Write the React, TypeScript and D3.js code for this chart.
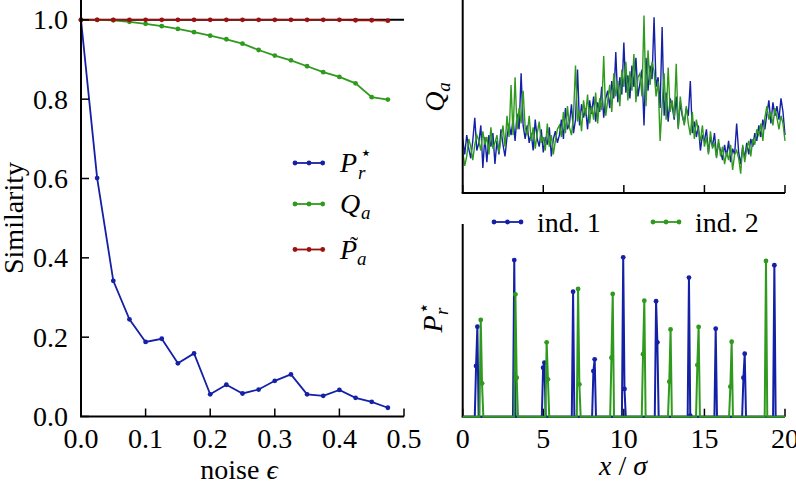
import React from "react";
import * as d3 from "d3";

// ---------- Left panel: similarity vs noise ----------
const noiseEps = [0, 0.025, 0.05, 0.075, 0.1, 0.125, 0.15, 0.175, 0.2, 0.225, 0.25, 0.275, 0.3, 0.325, 0.35, 0.375, 0.4, 0.425, 0.45, 0.475];
const simPr = [1.0, 0.601, 0.342, 0.245, 0.188, 0.196, 0.134, 0.159, 0.056, 0.08, 0.058, 0.068, 0.09, 0.106, 0.056, 0.052, 0.067, 0.047, 0.037, 0.022];
const simQa = [1.0, 1.0, 0.999, 0.995, 0.99, 0.984, 0.977, 0.969, 0.96, 0.951, 0.94, 0.924, 0.91, 0.898, 0.883, 0.868, 0.856, 0.84, 0.805, 0.799];
const simPa = [1, 1, 1, 1, 1, 1, 1, 1, 1, 1, 1, 1, 1, 1, 1, 1, 1, 0.999, 0.999, 0.998];
const leftXTicks = [0, 0.1, 0.2, 0.3, 0.4, 0.5];
const leftYTicks = [0, 0.2, 0.4, 0.6, 0.8, 1.0];

// ---------- Top right: Q_a profiles (arbitrary units) ----------
const qaX = d3.range(161).map((i) => i * 0.125);
const qaInd1 = [
  28, 20, 30, 23, 18, 27, 39, 22,
  26, 35, 13, 29, 16, 30, 24, 31,
  15, 27, 20, 33, 25, 19, 29, 36,
  30, 38, 27, 41, 33, 62, 35, 28,
  35, 26, 31, 22, 38, 28, 24, 33,
  21, 29, 25, 34, 19, 28, 32, 26,
  30, 38, 28, 44, 33, 36, 46, 31,
  38, 64, 35, 46, 39, 44, 33, 48,
  41, 50, 37, 47, 42, 55, 39, 49,
  53, 44, 58, 49, 73, 47, 60, 51,
  78, 52, 61, 49, 66, 55, 70, 50,
  57, 64, 35, 70, 53, 66, 59, 91,
  55, 60, 44, 86, 40, 52, 37, 49,
  45, 38, 50, 34, 47, 40, 36, 44,
  40, 58, 31, 37, 29, 35, 22, 30,
  27, 33, 21, 29, 24, 31, 19, 26,
  22, 17, 25, 19, 27, 16, 23, 20,
  36, 21, 15, 24, 18, 26, 20, 28,
  24, 31, 27, 35, 29, 38, 33, 41,
  48, 36, 47, 40, 45, 38, 49, 42,
  30,
];
const qaInd2 = [
  22, 14, 19, 28, 24, 17, 25, 30,
  27, 22, 32, 25, 29, 20, 34, 23,
  26, 30, 21, 28, 35, 24, 40, 29,
  56, 30, 60, 33, 44, 36, 53, 34,
  30, 40, 27, 34, 23, 31, 37, 26,
  29, 22, 36, 24, 30, 20, 27, 33,
  35, 29, 42, 31, 45, 34, 30, 40,
  66, 37, 43, 32, 48, 40, 51, 36,
  45, 38, 52, 36, 49, 43, 71, 40,
  48, 56, 42, 62, 50, 58, 45, 64,
  55, 68, 48, 63, 53, 72, 47, 60,
  62, 50, 92, 45, 74, 56, 68, 63,
  50, 58, 27, 46, 62, 38, 65, 42,
  48, 39, 67, 33, 50, 41, 35, 45,
  36, 30, 42, 28, 38, 32, 27, 35,
  24, 29, 20, 32, 23, 26, 18, 28,
  19, 24, 15, 21, 17, 25, 12, 20,
  22, 18, 10, 25, 16, 23, 27, 19,
  28, 25, 33, 30, 36, 27, 39, 45,
  38, 42, 35, 44, 39, 33, 40, 36,
  27,
];

// ---------- Bottom right: P_r* peaks ----------
const ind1PeakX = [0.91, 3.2, 5.07, 6.85, 8.19, 9.96, 12.0, 14.04, 15.7, 17.5, 19.34];
const ind1PeakTop = [0.467, 0.813, 0.28, 0.649, 0.298, 0.827, 0.599, 0.722, 0.457, 0.327, 0.786];
const ind1PeakMid = [0.263, 0, 0.254, 0, 0.237, 0.144, 0.386, 0.005, 0, 0.202, 0];
const ind1PeakSide = [-1, 0, -1, 0, -1, 1, 1, 1, 0, -1, 0];
const ind2PeakX = [1.12, 3.27, 5.21, 7.16, 9.31, 11.27, 12.9, 14.64, 16.69, 18.82];
const ind2PeakTop = [0.502, 0.635, 0.386, 0.663, 0.637, 0.602, 0.453, 0.466, 0.389, 0.808];
const ind2PeakMid = [0.173, 0.202, 0.194, 0.168, 0.306, 0.324, 0.182, 0.268, 0.156, 0];
const ind2PeakSide = [1, 1, 1, 1, -1, -1, -1, -1, -1, 0];
const rightXTicks = [0, 5, 10, 15, 20];

const BLUE = "#1420a6";
const GREEN = "#2f9a1e";
const RED = "#9a1010";
const FONT = "'Liberation Serif', 'DejaVu Serif', serif";
const FS = 28;

function buildPeaks(px: number[], top: number[], mid: number[], side: number[]): [number, number][] {
  const dx = 0.08;
  const pts: [number, number][] = [[0, 0]];
  px.forEach((x, i) => {
    if (side[i] === 1) {
      pts.push([x - dx, 0], [x, top[i]], [x + dx, mid[i]], [x + 2 * dx, 0]);
    } else if (side[i] === -1) {
      pts.push([x - 2 * dx, 0], [x - dx, mid[i]], [x, top[i]], [x + dx, 0]);
    } else {
      pts.push([x - dx, 0], [x, top[i]], [x + dx, 0]);
    }
  });
  pts.push([20, 0]);
  return pts;
}

export default function App() {
  const xL = d3.scaleLinear().domain([0, 0.5]).range([81, 404]);
  const yL = d3.scaleLinear().domain([0, 1.05]).range([416.5, 0]);
  const xR = d3.scaleLinear().domain([0, 20]).range([462.7, 785]);
  const yQ = d3.scaleLinear().domain([0, 100]).range([193, 0]);
  const yP = d3.scaleLinear().domain([0, 1]).range([416.7, 224]);

  const lineL = d3.line<number>().x((_, i) => xL(noiseEps[i])).y((d) => yL(d));
  const lineQ = d3.line<number>().x((_, i) => xR(qaX[i])).y((d) => yQ(d));
  const lineP = d3.line<[number, number]>().x((d) => xR(d[0])).y((d) => yP(d[1]));

  const ind1 = buildPeaks(ind1PeakX, ind1PeakTop, ind1PeakMid, ind1PeakSide);
  const ind2 = buildPeaks(ind2PeakX, ind2PeakTop, ind2PeakMid, ind2PeakSide);

  const leftSeries = [
    { vals: simPr, color: BLUE },
    { vals: simQa, color: GREEN },
    { vals: simPa, color: RED },
  ];

  const legendL = [
    { color: BLUE, y: 163 },
    { color: GREEN, y: 204 },
    { color: RED, y: 249.5 },
  ];

  const tickLen = 8;
  const axisW = 2;

  return (
    <svg width={796} height={490} style={{ position: "fixed", left: 0, top: 0, background: "#fff" }} fontFamily={FONT}>
      <rect x={0} y={0} width={796} height={490} fill="#fff" />

      {/* ================= LEFT PANEL ================= */}
      <line x1={xL(0)} x2={xL(0.5)} y1={yL(1)} y2={yL(1)} stroke="#000" strokeWidth={2} />
      {leftSeries.map((s, k) => (
        <g key={k}>
          <path d={lineL(s.vals) || ""} fill="none" stroke={s.color} strokeWidth={1.8} />
          {s.vals.map((v, i) => (
            <circle key={i} cx={xL(noiseEps[i])} cy={yL(v)} r={2.4} fill={s.color} />
          ))}
        </g>
      ))}
      <line x1={xL(0)} x2={xL(0)} y1={0} y2={yL(0)} stroke="#000" strokeWidth={axisW} />
      <line x1={xL(0) - 1} x2={xL(0.5)} y1={yL(0)} y2={yL(0)} stroke="#000" strokeWidth={axisW} />
      {leftYTicks.map((t) => (
        <g key={t}>
          <line x1={xL(0)} x2={xL(0) + tickLen} y1={yL(t)} y2={yL(t)} stroke="#000" strokeWidth={1.5} />
          <text x={68} y={yL(t) + 9.5} fontSize={FS} textAnchor="end">{t.toFixed(1)}</text>
        </g>
      ))}
      {leftXTicks.map((t) => (
        <g key={t}>
          <line x1={xL(t)} x2={xL(t)} y1={yL(0)} y2={yL(0) - tickLen} stroke="#000" strokeWidth={1.5} />
          <text x={xL(t)} y={448} fontSize={FS} textAnchor="middle">{t.toFixed(1)}</text>
        </g>
      ))}
      <text x={239} y={479} fontSize={FS} textAnchor="middle">
        noise <tspan fontStyle="italic">ϵ</tspan>
      </text>
      <text transform="translate(23,218) rotate(-90)" fontSize={FS} textAnchor="middle">Similarity</text>

      {/* left legend */}
      {legendL.map((l, k) => (
        <g key={k}>
          <line x1={294} x2={323} y1={l.y} y2={l.y} stroke={l.color} strokeWidth={1.8} />
          {[295, 309, 322.7].map((cx) => (
            <circle key={cx} cx={cx} cy={l.y} r={2.4} fill={l.color} />
          ))}
        </g>
      ))}
      <g fontSize={FS} fontStyle="italic">
        <text x={340} y={172}>P</text>
        <text x={358} y={179} fontSize={19}>r</text>
        <text x={360} y={159} fontSize={19} fontStyle="normal">⋆</text>
        <text x={340} y={213}>Q</text>
        <text x={361} y={219} fontSize={19}>a</text>
        <text x={340} y={258.5}>P</text>
        <text x={350} y={253} fontSize={24} fontStyle="normal">˜</text>
        <text x={357} y={264.5} fontSize={19}>a</text>
      </g>

      {/* ================= TOP RIGHT PANEL ================= */}
      <path d={lineQ(qaInd1) || ""} fill="none" stroke={BLUE} strokeWidth={1.4} />
      <path d={lineQ(qaInd2) || ""} fill="none" stroke={GREEN} strokeWidth={1.4} />
      <line x1={xR(0)} x2={xR(0)} y1={0} y2={yQ(0)} stroke="#000" strokeWidth={axisW} />
      <line x1={xR(0) - 1} x2={xR(20)} y1={yQ(0)} y2={yQ(0)} stroke="#000" strokeWidth={axisW} />
      {rightXTicks.map((t) => (
        <line key={t} x1={xR(t)} x2={xR(t)} y1={yQ(0)} y2={yQ(0) - tickLen} stroke="#000" strokeWidth={1.5} />
      ))}
      <text transform="translate(444,97) rotate(-90)" fontSize={FS} fontStyle="italic" textAnchor="middle">
        Q<tspan fontSize={19} dy={6}>a</tspan>
      </text>

      {/* ================= BOTTOM RIGHT PANEL ================= */}
      <line x1={xR(0)} x2={xR(0)} y1={224} y2={yP(0)} stroke="#000" strokeWidth={axisW} />
      <line x1={xR(0) - 1} x2={xR(20)} y1={yP(0)} y2={yP(0)} stroke="#000" strokeWidth={axisW} />
      {rightXTicks.map((t) => (
        <g key={t}>
          <line x1={xR(t)} x2={xR(t)} y1={yP(0)} y2={yP(0) - tickLen} stroke="#000" strokeWidth={1.5} />
          <text x={xR(t)} y={448} fontSize={FS} textAnchor="middle">{t}</text>
        </g>
      ))}
      {[{ pts: ind1, color: BLUE }, { pts: ind2, color: GREEN }].map((s, k) => (
        <g key={k}>
          <path d={lineP(s.pts) || ""} fill="none" stroke={s.color} strokeWidth={2} />
          {s.pts.filter((p) => p[1] > 0).map((p, i) => (
            <circle key={i} cx={xR(p[0])} cy={yP(p[1])} r={2.4} fill={s.color} />
          ))}
        </g>
      ))}
      <text x={623} y={475} fontSize={FS} textAnchor="middle">
        <tspan fontStyle="italic">x</tspan> / <tspan fontStyle="italic">σ</tspan>
      </text>
      <g transform="translate(442,320) rotate(-90)" fontSize={FS} fontStyle="italic">
        <text x={-4} y={0} textAnchor="middle">P</text>
        <text x={5} y={6} fontSize={19}>r</text>
        <text x={6} y={-12} fontSize={19} fontStyle="normal">⋆</text>
      </g>

      {/* right legend */}
      {[{ x1: 493, x2: 522, tx: 537, label: "ind. 1", color: BLUE }, { x1: 652, x2: 680, tx: 695, label: "ind. 2", color: GREEN }].map((l) => (
        <g key={l.label}>
          <line x1={l.x1} x2={l.x2} y1={222} y2={222} stroke={l.color} strokeWidth={1.8} />
          {[l.x1 + 1, (l.x1 + l.x2) / 2, l.x2 - 1].map((cx) => (
            <circle key={cx} cx={cx} cy={222} r={2.4} fill={l.color} />
          ))}
          <text x={l.tx} y={232} fontSize={FS}>{l.label}</text>
        </g>
      ))}
    </svg>
  );
}
